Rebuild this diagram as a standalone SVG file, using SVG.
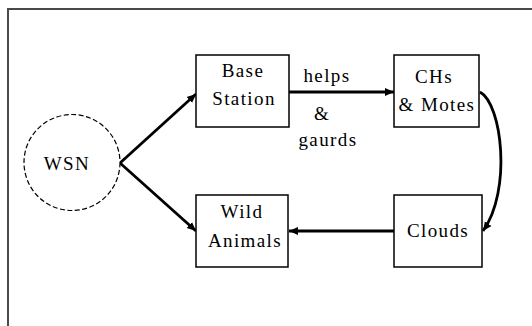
<svg xmlns="http://www.w3.org/2000/svg" width="532" height="326" viewBox="0 0 532 326">
<style>
.box{fill:#fff;stroke:#000;stroke-width:1.5}
.t{font-family:'Liberation Serif','Times New Roman','DejaVu Serif',serif;font-size:19px;letter-spacing:1.4px;fill:#000;text-anchor:middle}
.c{fill:none;stroke:#000;stroke-width:2.8}
</style>
<defs>
<marker id="ah" markerUnits="userSpaceOnUse" markerWidth="10" markerHeight="10" refX="9" refY="5" orient="auto">
<path d="M0,1 L9,5 L0,9 Z" fill="#000"/>
</marker>
</defs>
<rect width="532" height="326" fill="#fff"/>
<path d="M8,326 V9 H532" fill="none" stroke="#4a4a4a" stroke-width="2"/>
<g id="connectors">
<line class="c" x1="120" y1="163" x2="196" y2="94" marker-end="url(#ah)"/>
<line class="c" x1="120" y1="163" x2="196" y2="231" marker-end="url(#ah)"/>
<line class="c" x1="289" y1="92" x2="394" y2="92" marker-end="url(#ah)"/>
<line class="c" x1="394" y1="231" x2="289" y2="231" stroke-width="2.4" marker-end="url(#ah)"/>
<path class="c" d="M480,92 C502,104 512,190 483,231" stroke-width="2.2" marker-end="url(#ah)"/>
</g>
<g id="wsn">
<circle cx="72" cy="162.5" r="48" fill="#fff" stroke="#000" stroke-width="1.2" stroke-dasharray="5,2.5"/>
<text class="t" x="67" y="170" font-family="Liberation Serif, serif">WSN</text>
</g>
<g id="base-station">
<rect class="box" x="196" y="55" width="93" height="72"/>
<text class="t" x="243" y="77">Base</text>
<text class="t" x="244" y="105">Station</text>
</g>
<g id="chs-motes">
<rect class="box" x="394" y="55" width="85" height="72"/>
<text class="t" x="434" y="83">CHs</text>
<text class="t" x="437" y="111">&amp; Motes</text>
</g>
<g id="wild-animals">
<rect class="box" x="196" y="195" width="92" height="72"/>
<text class="t" x="242" y="218">Wild</text>
<text class="t" x="245" y="247">Animals</text>
</g>
<g id="clouds">
<rect class="box" x="394" y="195" width="88" height="72"/>
<text class="t" x="438" y="237">Clouds</text>
</g>
<g id="label">
<text class="t" x="327" y="82">helps</text>
<text class="t" x="322" y="120">&amp;</text>
<text class="t" x="328" y="146">gaurds</text>
</g>
</svg>
